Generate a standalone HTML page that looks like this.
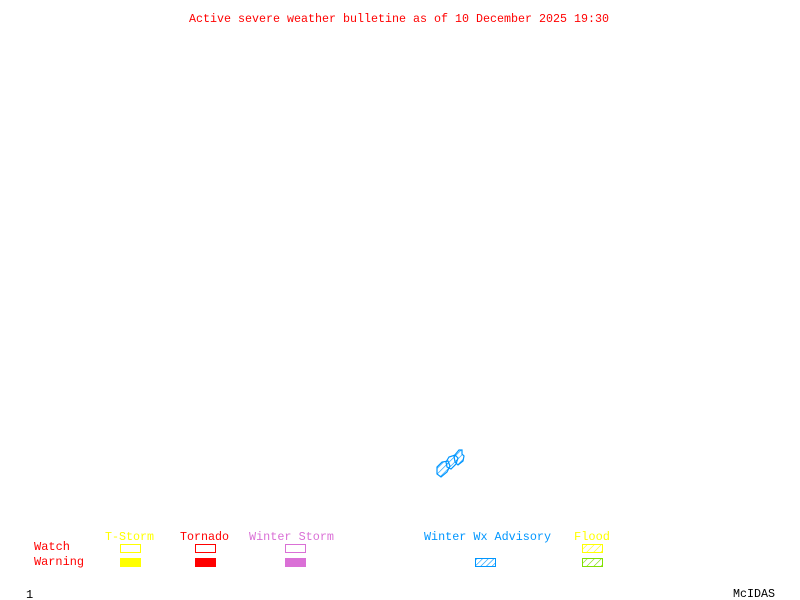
<!DOCTYPE html>
<html><head><style>
html,body{margin:0;padding:0;background:#fff;}
svg{display:block;}
text{font-family:"Liberation Mono","DejaVu Sans Mono",monospace;font-size:12px;}
</style></head><body>
<svg width="800" height="600" viewBox="0 0 800 600" xmlns="http://www.w3.org/2000/svg">
<defs>
<pattern id="hb" width="4" height="4" patternUnits="userSpaceOnUse" patternTransform="rotate(45)">
<line x1="0" y1="0" x2="0" y2="4" stroke="#0096ff" stroke-width="1.2"/></pattern>
<pattern id="hy" width="5" height="5" patternUnits="userSpaceOnUse" patternTransform="rotate(45)">
<line x1="0" y1="0" x2="0" y2="5" stroke="#ffff00" stroke-width="1.2"/></pattern>
<pattern id="hg" width="5" height="5" patternUnits="userSpaceOnUse" patternTransform="rotate(45)">
<line x1="0" y1="0" x2="0" y2="5" stroke="#80e000" stroke-width="1.2"/></pattern>
</defs>
<text x="189" y="22" fill="#ff0000" textLength="420" lengthAdjust="spacingAndGlyphs">Active severe weather bulletine as of 10 December 2025 19:30</text>

<g stroke="#0096ff" stroke-width="1.2" fill="url(#hb)">
<polygon points="437,467 442,462 448,461 450,466 447,472 441,477 437,474"/>
<polygon points="446,462 449,457 455,455 458,458 456,464 451,469 447,467"/>
<polygon points="454,456 459,450 462,450 462,454 464,456 463,461 458,465 455,462"/>
</g>

<text x="105" y="540" fill="#ffff00" textLength="49" lengthAdjust="spacingAndGlyphs">T-Storm</text>
<text x="180" y="540" fill="#ff0000" textLength="49" lengthAdjust="spacingAndGlyphs">Tornado</text>
<text x="249" y="540" fill="#da70d6" textLength="85" lengthAdjust="spacingAndGlyphs">Winter Storm</text>
<text x="424" y="540" fill="#0096ff" textLength="127" lengthAdjust="spacingAndGlyphs">Winter Wx Advisory</text>
<text x="574" y="540" fill="#ffff00" textLength="36" lengthAdjust="spacingAndGlyphs">Flood</text>
<text x="34" y="550" fill="#ff0000" textLength="36" lengthAdjust="spacingAndGlyphs">Watch</text>
<text x="34" y="565" fill="#ff0000" textLength="50" lengthAdjust="spacingAndGlyphs">Warning</text>

<rect x="120.5" y="544.5" width="20" height="8" fill="none" stroke="#ffff00"/>
<rect x="120" y="558" width="21" height="9" fill="#ffff00"/>
<rect x="195.5" y="544.5" width="20" height="8" fill="none" stroke="#ff0000"/>
<rect x="195" y="558" width="21" height="9" fill="#ff0000"/>
<rect x="285.5" y="544.5" width="20" height="8" fill="none" stroke="#da70d6"/>
<rect x="285" y="558" width="21" height="9" fill="#da70d6"/>
<rect x="475.5" y="558.5" width="20" height="8" fill="url(#hb)" stroke="#0096ff"/>
<rect x="582.5" y="544.5" width="20" height="8" fill="url(#hy)" stroke="#ffff00"/>
<rect x="582.5" y="558.5" width="20" height="8" fill="url(#hg)" stroke="#80e000"/>

<text x="26" y="598" fill="#000">1</text>
<text x="733" y="597" fill="#000" textLength="42" lengthAdjust="spacingAndGlyphs">McIDAS</text>
</svg>
</body></html>
